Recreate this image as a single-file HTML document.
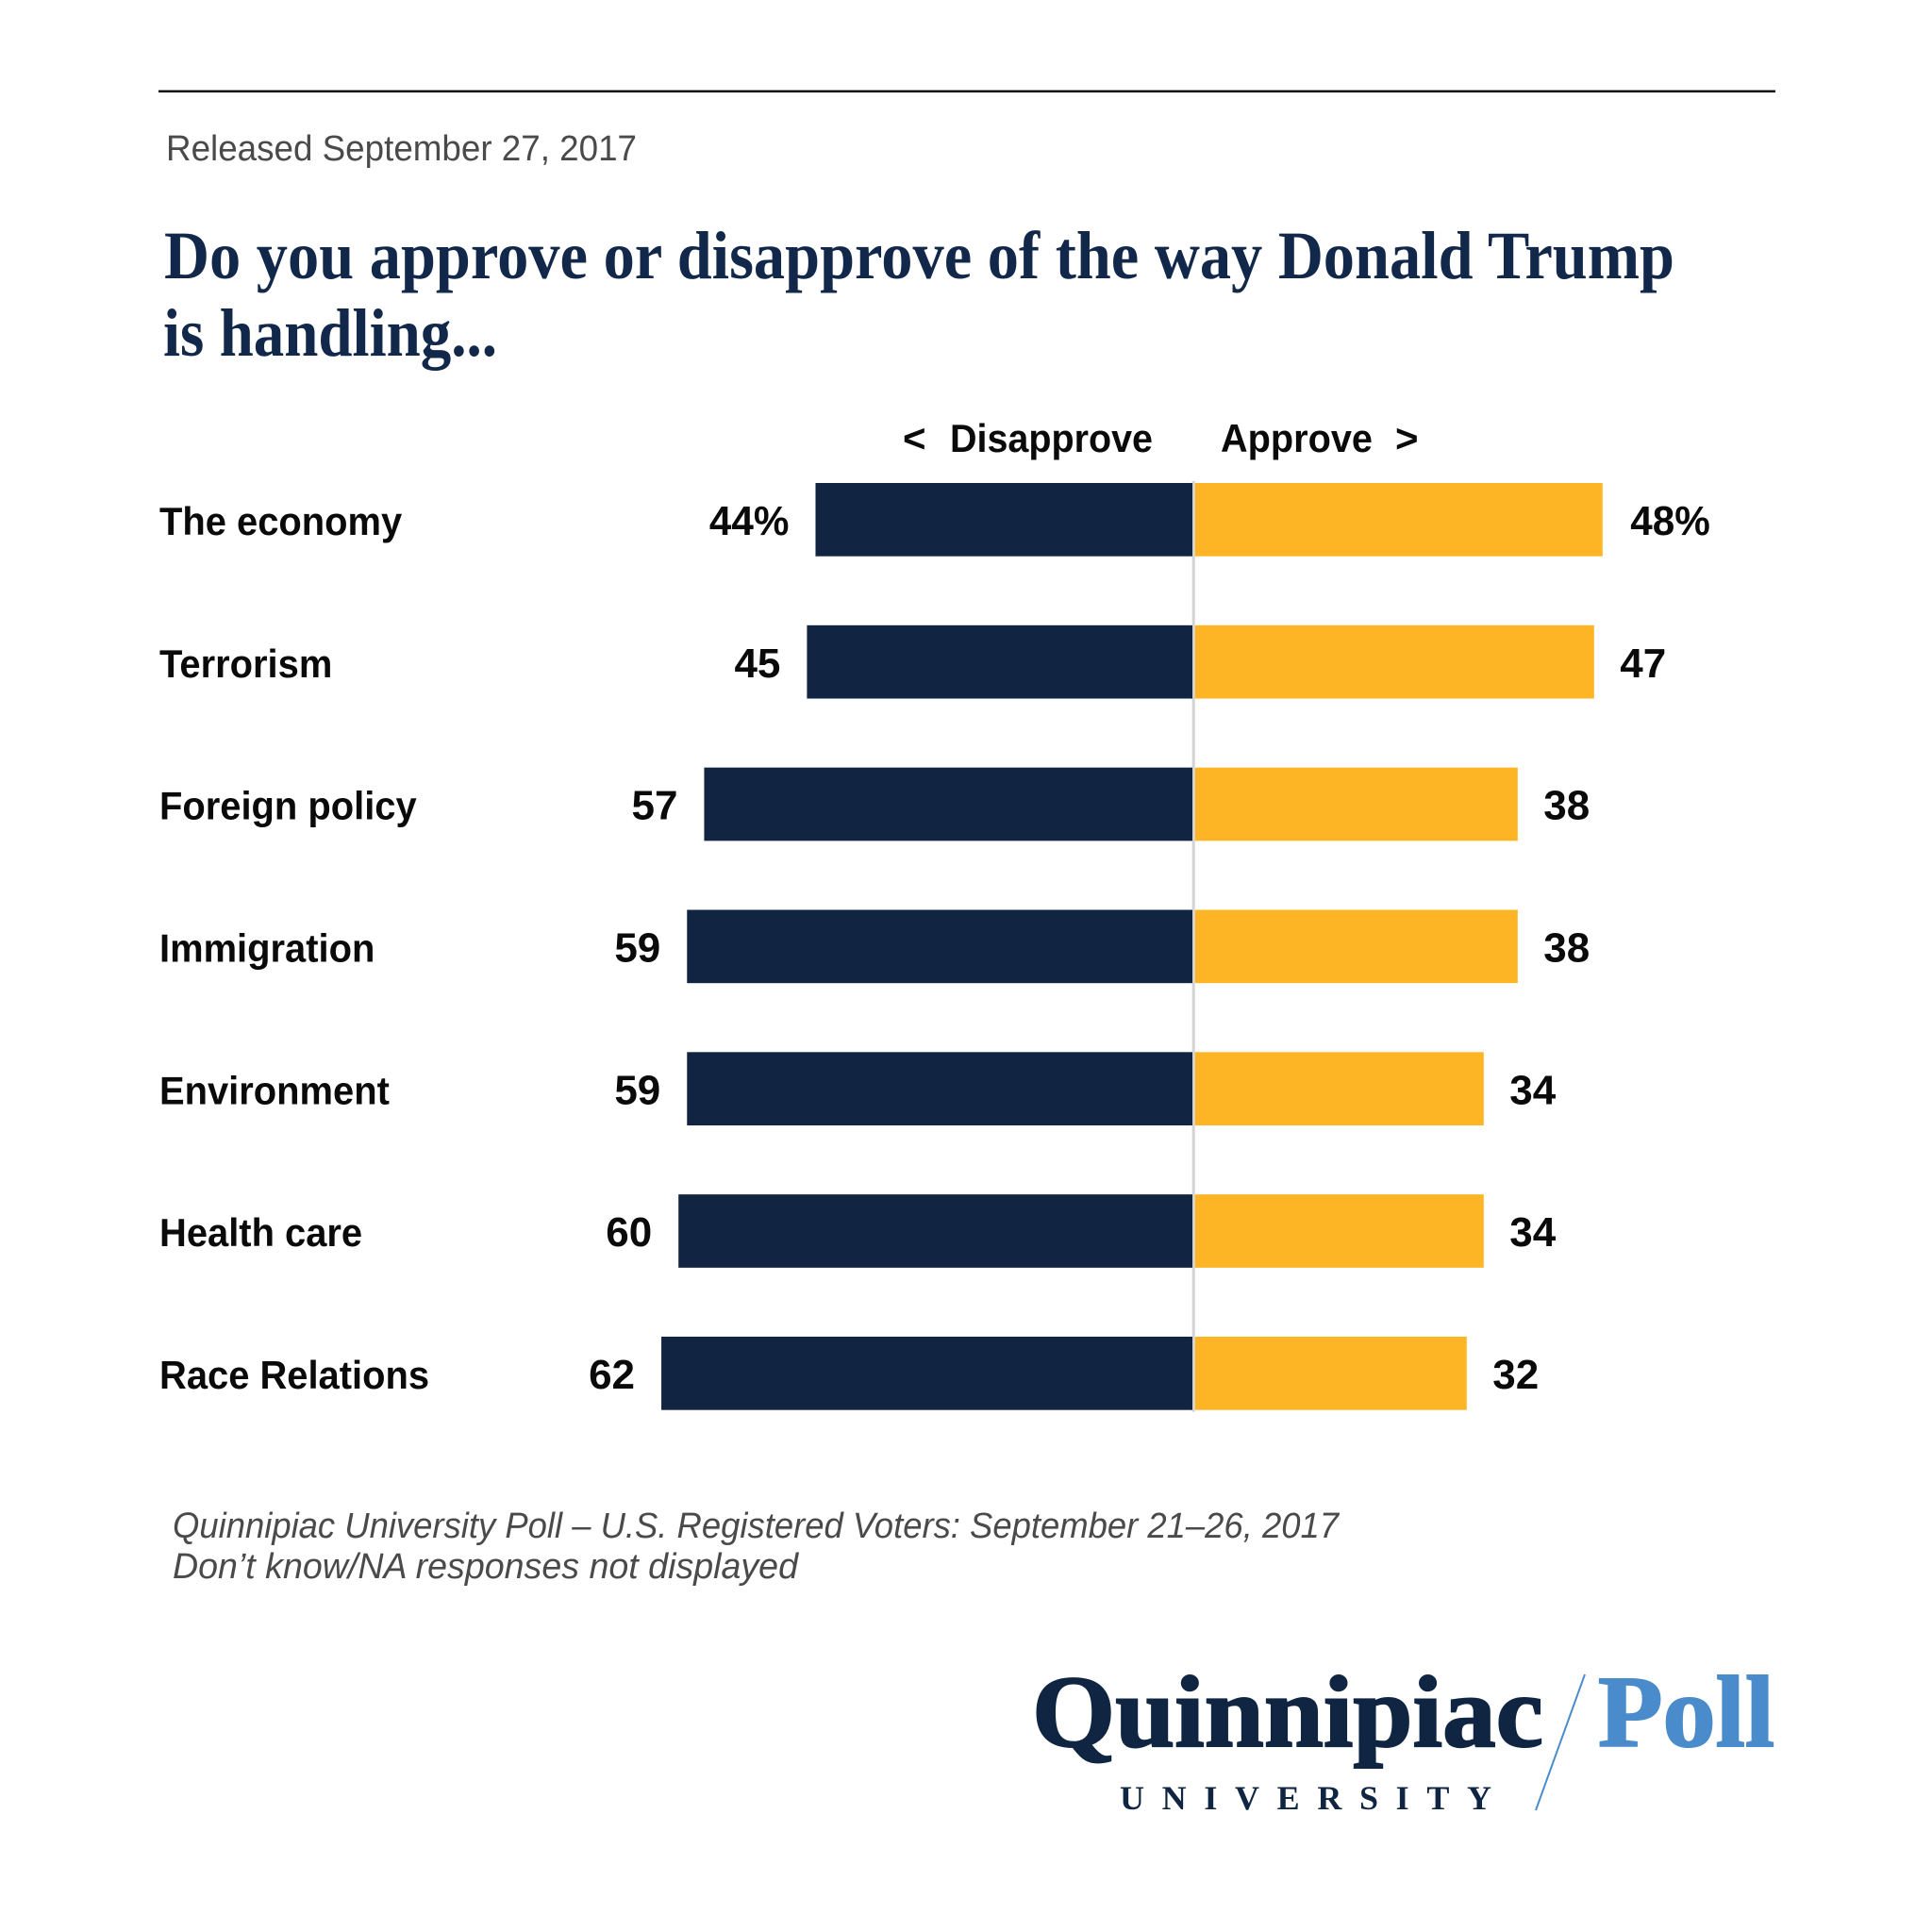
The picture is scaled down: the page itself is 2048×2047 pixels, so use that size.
<!DOCTYPE html>
<html lang="en">
<head>
<meta charset="utf-8">
<title>Quinnipiac Poll: Trump approval by issue</title>
<style>
html,body{margin:0;padding:0;background:#fff;}
svg{display:block;}
.sans{font-family:"Liberation Sans",Arial,sans-serif;}
.serif{font-family:"Liberation Serif","Times New Roman",serif;}
.row-text{font-family:"Liberation Sans",Arial,sans-serif;font-weight:700;font-size:42px;fill:#0a0a0a;}
.value-text{font-family:"Liberation Sans",Arial,sans-serif;font-weight:700;font-size:44px;fill:#0a0a0a;}
</style>
</head>
<body>
<svg id="chart" xmlns="http://www.w3.org/2000/svg" width="2048" height="2047" viewBox="0 0 2048 2047">
  <rect x="0" y="0" width="2048" height="2047" fill="#ffffff"/>
  <rect x="168" y="95.6" width="1714" height="2.4" fill="#000000"/>
  <text class="sans" x="176" y="170" font-size="38" fill="#4a4a4a" textLength="499" lengthAdjust="spacingAndGlyphs">Released September 27, 2017</text>
  <text class="serif" x="174" y="295" font-size="72" font-weight="700" fill="#12284a" textLength="1601" lengthAdjust="spacingAndGlyphs">Do you approve or disapprove of the way Donald Trump</text>
  <text class="serif" x="173" y="377" font-size="72" font-weight="700" fill="#12284a" textLength="354" lengthAdjust="spacingAndGlyphs">is handling...</text>

  <text class="sans" x="957" y="479" font-size="42" font-weight="700" fill="#0a0a0a">&lt;</text>
  <text class="sans" x="1007" y="479" font-size="42" font-weight="700" fill="#0a0a0a" textLength="215" lengthAdjust="spacingAndGlyphs">Disapprove</text>
  <text class="sans" x="1294" y="479" font-size="42" font-weight="700" fill="#0a0a0a" textLength="161" lengthAdjust="spacingAndGlyphs">Approve</text>
  <text class="sans" x="1479" y="479" font-size="42" font-weight="700" fill="#0a0a0a">&gt;</text>

  <g id="bars"></g>
  <g id="labels"></g>

  <text class="sans" x="183" y="1630" font-size="38" font-style="italic" fill="#4a4a4a" textLength="1236" lengthAdjust="spacingAndGlyphs">Quinnipiac University Poll – U.S. Registered Voters: September 21–26, 2017</text>
  <text class="sans" x="183" y="1673" font-size="38" font-style="italic" fill="#4a4a4a" textLength="663" lengthAdjust="spacingAndGlyphs">Don’t know/NA responses not displayed</text>

  <g>
    <text class="serif" x="1094" y="1851" font-size="108" font-weight="700" fill="#0f2542" stroke="#0f2542" stroke-width="2" textLength="542" lengthAdjust="spacingAndGlyphs">Quinnipiac</text>
    <text class="serif" x="1187" y="1918" font-size="36" font-weight="700" fill="#0f2542" textLength="394" lengthAdjust="spacing">UNIVERSITY</text>
    <line x1="1680" y1="1775" x2="1628" y2="1919" stroke="#4a8ccb" stroke-width="2"/>
    <text class="serif" x="1694" y="1851" font-size="108" font-weight="700" fill="#4a8ccb" stroke="#4a8ccb" stroke-width="2" textLength="187" lengthAdjust="spacingAndGlyphs">Poll</text>
  </g>
</svg>
<script>
const categories = ["The economy", "Terrorism", "Foreign policy", "Immigration", "Environment", "Health care", "Race Relations"];
const disapproveValues = [44, 45, 57, 59, 59, 60, 62];
const approveValues = [48, 47, 38, 38, 34, 34, 32];
const firstRowSuffix = "%";

const SVG_NS = "http://www.w3.org/2000/svg";
const barsLayer = document.getElementById("bars");
const labelsLayer = document.getElementById("labels");

const leftAxisX = 1264;
const rightAxisX = 1266.8;
const unitLeft = 9.08;
const unitRight = 9.0;
const firstBarTop = 512;
const rowPitch = 150.83;
const barHeight = 77.7;
const leftLabelGap = 28;
const rightLabelGap = 27.5;
const baselineOffset = 55;
const categorySqueeze = 0.95;
const percentSqueeze = 0.96;

function xLeft(v) { return leftAxisX - v * unitLeft; }
function xRight(v) { return rightAxisX + v * unitRight; }
function yRow(i) { return firstBarTop + i * rowPitch; }
function slug(s) { return s.toLowerCase().replace(/\s+/g, "-"); }
function squeeze(el, factor) {
  el.setAttribute("textLength", el.getComputedTextLength() * factor);
  el.setAttribute("lengthAdjust", "spacingAndGlyphs");
}

const divider = document.createElementNS(SVG_NS, "rect");
divider.setAttribute("x", leftAxisX - 0.3);
divider.setAttribute("y", firstBarTop - 2);
divider.setAttribute("width", 3);
divider.setAttribute("height", yRow(categories.length - 1) + barHeight + 4 - firstBarTop);
divider.setAttribute("fill", "#d3d3d6");


barsLayer.appendChild(divider);

categories.forEach(function (name, i) {
  const top = yRow(i);
  const key = slug(name);
  const baseline = top + baselineOffset;

  const navy = document.createElementNS(SVG_NS, "rect");
  navy.setAttribute("x", xLeft(disapproveValues[i]));
  navy.setAttribute("y", top);
  navy.setAttribute("width", leftAxisX - xLeft(disapproveValues[i]));
  navy.setAttribute("height", barHeight);
  navy.setAttribute("fill", "#112441");
  
  
  barsLayer.appendChild(navy);

  const amber = document.createElementNS(SVG_NS, "rect");
  amber.setAttribute("x", rightAxisX);
  amber.setAttribute("y", top);
  amber.setAttribute("width", xRight(approveValues[i]) - rightAxisX);
  amber.setAttribute("height", barHeight);
  amber.setAttribute("fill", "#fdb525");
  
  
  barsLayer.appendChild(amber);

  const cat = document.createElementNS(SVG_NS, "text");
  cat.setAttribute("x", 169);
  cat.setAttribute("y", baseline);
  cat.setAttribute("class", "row-text");
  cat.textContent = name;
  
  
  labelsLayer.appendChild(cat);
  squeeze(cat, categorySqueeze);

  const suffix = i === 0 ? firstRowSuffix : "";

  const leftValue = document.createElementNS(SVG_NS, "text");
  leftValue.setAttribute("x", xLeft(disapproveValues[i]) - leftLabelGap);
  leftValue.setAttribute("y", baseline);
  leftValue.setAttribute("text-anchor", "end");
  leftValue.setAttribute("class", "value-text");
  leftValue.textContent = disapproveValues[i] + suffix;
  
  
  labelsLayer.appendChild(leftValue);
  if (suffix) { squeeze(leftValue, percentSqueeze); }

  const rightValue = document.createElementNS(SVG_NS, "text");
  rightValue.setAttribute("x", xRight(approveValues[i]) + rightLabelGap + (suffix ? 2 : 0));
  rightValue.setAttribute("y", baseline);
  rightValue.setAttribute("class", "value-text");
  rightValue.textContent = approveValues[i] + suffix;
  
  
  labelsLayer.appendChild(rightValue);
  if (suffix) { squeeze(rightValue, percentSqueeze); }
});
</script>
</body>
</html>
